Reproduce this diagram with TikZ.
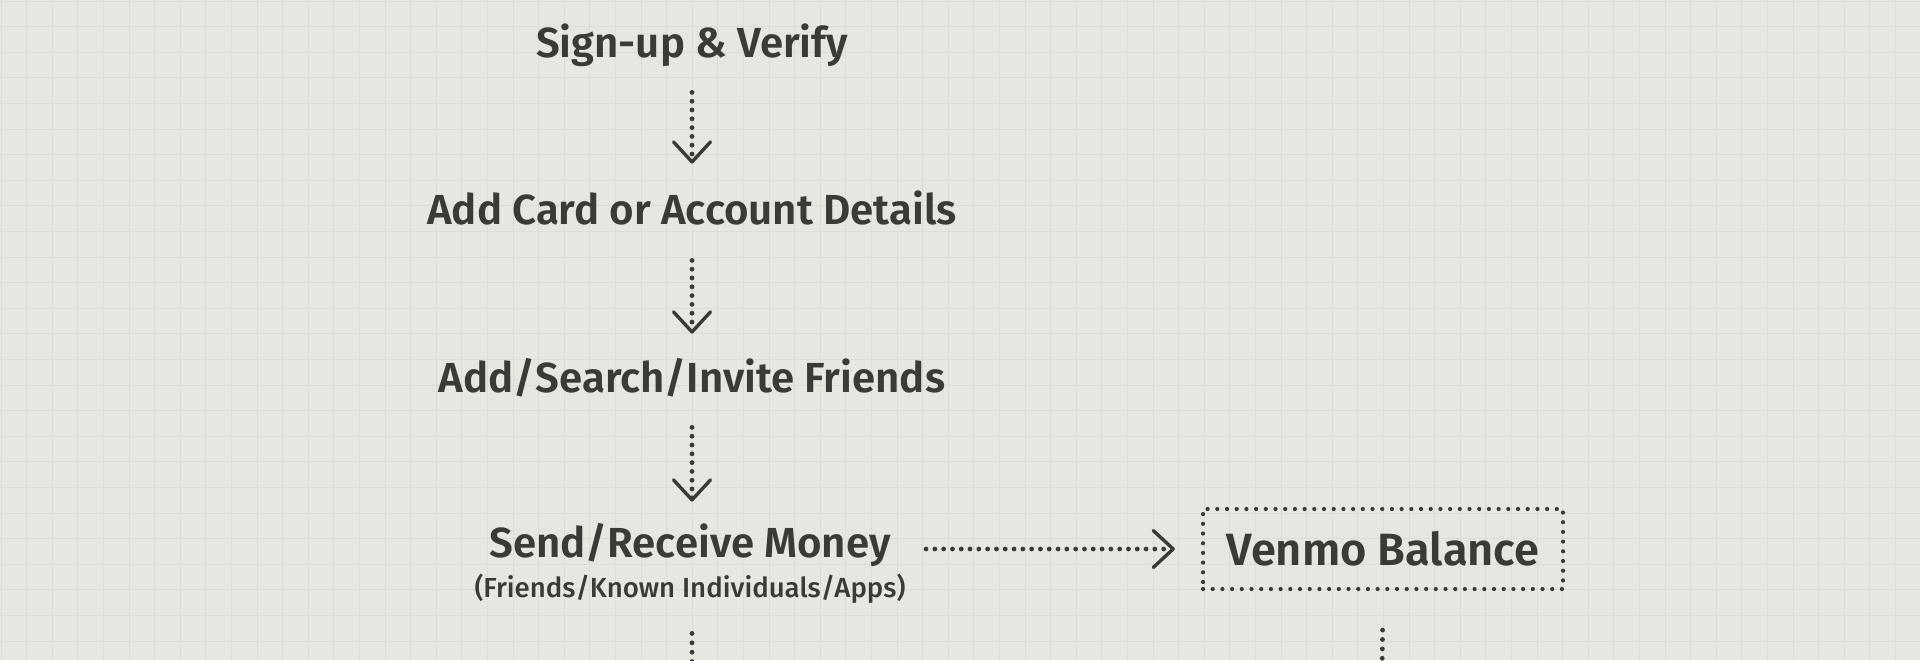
\documentclass[tikz,border=0pt]{standalone}
\usepackage{fontspec}
\setmainfont{Fira Sans}[UprightFont=* SemiBold]
\newfontfamily\subfont{Fira Sans}[UprightFont=* Medium]
\usetikzlibrary{arrows.meta}
\definecolor{bgc}{HTML}{E6E7E0}
\definecolor{gridc}{HTML}{DCDED5}
\definecolor{inkc}{HTML}{3A3A37}
\tikzset{
  title/.style={inner sep=0pt, text=inkc, font=\fontsize{21pt}{21pt}\selectfont, text height=14.5pt, text depth=0pt},
  subtitle/.style={inner sep=0pt, text=inkc, font=\subfont\fontsize{13.8pt}{14pt}\selectfont, text height=9.5pt, text depth=0pt},
  balance/.style={draw=inkc, line width=2.1pt, dash pattern=on 0pt off 4.85pt, line cap=round,
    minimum width=180pt, minimum height=40pt, inner sep=0pt, text=inkc,
    font=\fontsize{22.6pt}{23pt}\selectfont, text height=16pt, text depth=0pt},
  flow/.style={draw=inkc, line width=2.4pt, dash pattern=on 0pt off 4.4pt, line cap=round,
    -{Straight Barb[length=10pt, width=18.5pt, line width=1.7pt, round]}},
  plainflow/.style={draw=inkc, line width=2.4pt, dash pattern=on 0pt off 4.7pt, line cap=round},
  gridline/.style={draw=gridc, line width=0.45pt}
}
\begin{document}
\begin{tikzpicture}[x=0.5pt, y=-0.5pt]
  \fill[bgc] (0,0) rectangle (1920,660);
  \useasboundingbox (0,0) rectangle (1920,660);
  \foreach \i in {0,...,75} \draw[gridline] (\i*25.6+1,0) -- (\i*25.6+1,660);
  \foreach \j in {0,...,26} \draw[gridline] (0,\j*25.6+1) -- (1920,\j*25.6+1);

  \node[title, anchor=base] (s1) at (692,57) {Sign-up \& Verify};
  \node[title, anchor=base] (s2) at (692,224) {Add Card or Account Details};
  \node[title, anchor=base] (s3) at (692,392) {Add/Search/Invite Friends};
  \node[title, anchor=base] (s4) at (690,557) {Send/Receive Money};
  \node[subtitle, anchor=base] (sub) at (690,597) {(Friends/Known Individuals/Apps)};
  \node[balance] (vb) at (1383,549) {Venmo Balance};

  \coordinate (endL) at (692,680);
  \coordinate (endR) at (1382,680);

  \draw[flow, shorten <=17.5pt, shorten >=15.5pt] (s1.south) -- (s2.north);
  \draw[flow, shorten <=18pt, shorten >=14.5pt] (s3.north |- s2.south) -- (s3.north);
  \draw[flow, shorten <=17.5pt, shorten >=13pt] (s3.south) -- (s4.north -| s3.south);
  \draw[flow, shorten <=17.5pt, shorten >=13pt] (s4.east |- vb.west) -- (vb.west);
  \draw[plainflow, shorten <=18pt] (sub.south -| s3.south) -- (endL);
  \draw[plainflow, shorten <=19.5pt] (vb.south) -- (endR);
\end{tikzpicture}
\end{document}
